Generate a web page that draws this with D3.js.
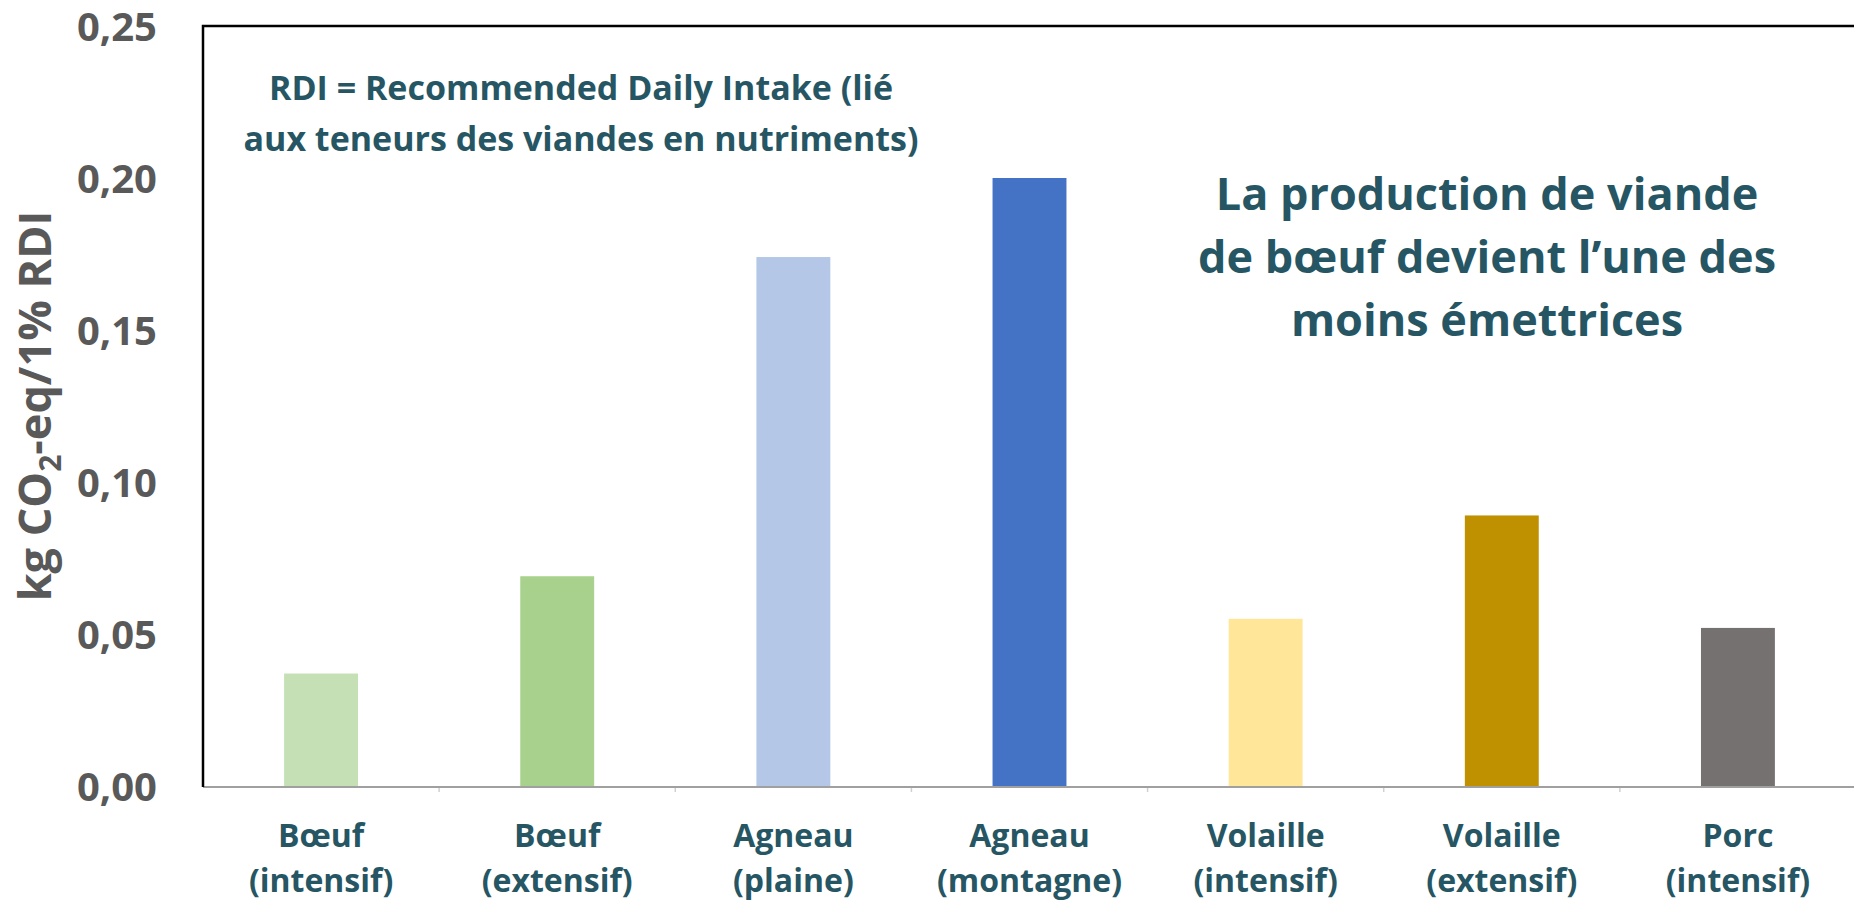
<!DOCTYPE html>
<html>
<head>
<meta charset="utf-8">
<style>
body { margin: 0; background: #fff; }
svg { display: block; font-family: "Open Sans", "Noto Sans", sans-serif; font-weight: bold; }
.tick text { fill: #595959; }
.note { fill: #265663; }
</style>
</head>
<body>
<svg width="1854" height="902"></svg>
<script src="https://d3js.org/d3.v7.min.js"></script>
<script>
  // values (kg CO2-eq / 1% RDI)
  var categories = ["Bœuf|(intensif)", "Bœuf|(extensif)", "Agneau|(plaine)", "Agneau|(montagne)",
                    "Volaille|(intensif)", "Volaille|(extensif)", "Porc|(intensif)"];
  var values = [0.037, 0.069, 0.174, 0.200, 0.055, 0.089, 0.052];
  var colors = ["#c5e0b4", "#a9d18e", "#b4c7e7", "#4472c4", "#ffe699", "#bf9000", "#767171"];
  var yTicks = [0, 0.05, 0.10, 0.15, 0.20, 0.25];

  var svg = d3.select("svg"),
    plotLeft = 203, plotRight = 1856, plotTop = 26, plotBottom = 786;

  var x = d3.scaleBand()
    .domain(categories)
    .range([plotLeft, plotRight])
    .paddingInner(0.687)
    .paddingOuter(0.3435);

  var y = d3.scaleLinear()
    .domain([0, 0.25])
    .range([plotBottom, plotTop]);

  var fr = d3.formatLocale({decimal: ",", thousands: " ", grouping: [3], currency: ["", " €"]});
  var fmt = fr.format(".2f");

  // y axis labels
  var yAxis = svg.append("g")
    .attr("transform", "translate(" + plotLeft + ",0)")
    .call(d3.axisLeft(y).tickValues(yTicks).tickFormat(fmt).tickSize(0).tickPadding(46));
  yAxis.select(".domain").remove();
  yAxis.selectAll("text")
    .attr("font-size", 40)
    .attr("font-family", "Open Sans")
    .attr("font-weight", "bold")
    .attr("dy", "0.36em");

  // bars
  svg.append("g")
    .selectAll("rect")
    .data(values)
    .enter().append("rect")
    .attr("x", function(d, i) { return x(categories[i]); })
    .attr("y", function(d) { return y(d); })
    .attr("width", x.bandwidth())
    .attr("height", function(d) { return y(0) - y(d); })
    .attr("fill", function(d, i) { return colors[i]; });

  // x axis line + boundary ticks
  svg.append("line")
    .attr("x1", plotLeft).attr("x2", 1854)
    .attr("y1", plotBottom + 1).attr("y2", plotBottom + 1)
    .attr("stroke", "#a0a0a0").attr("stroke-width", 2);

  var gap = (x.step() - x.bandwidth()) / 2;
  svg.append("g")
    .selectAll("line")
    .data(categories.slice(1))
    .enter().append("line")
    .attr("x1", function(d) { return x(d) - gap; })
    .attr("x2", function(d) { return x(d) - gap; })
    .attr("y1", plotBottom + 2).attr("y2", plotBottom + 6)
    .attr("stroke", "#d0d0d0").attr("stroke-width", 1.5);

  // frame (left + top)
  svg.append("path")
    .attr("d", "M" + plotLeft + "," + (plotBottom + 1) + "V" + plotTop + "H1854")
    .attr("fill", "none")
    .attr("stroke", "#000")
    .attr("stroke-width", 2.5);

  // category labels
  var xl = svg.append("g")
    .selectAll("text")
    .data(categories)
    .enter().append("text")
    .attr("class", "note")
    .attr("text-anchor", "middle")
    .attr("font-size", 32);
  xl.append("tspan")
    .attr("x", function(d) { return x(d) + x.bandwidth() / 2; })
    .attr("y", 847)
    .text(function(d) { return d.split("|")[0]; });
  xl.append("tspan")
    .attr("x", function(d) { return x(d) + x.bandwidth() / 2; })
    .attr("y", 892)
    .text(function(d) { return d.split("|")[1]; });

  // y axis title
  var yt = svg.append("text")
    .attr("transform", "translate(51," + ((plotTop + plotBottom) / 2) + ") rotate(-90)")
    .attr("text-anchor", "middle")
    .attr("fill", "#595959")
    .attr("font-size", 45);
  yt.append("tspan").text("kg CO");
  yt.append("tspan").attr("font-size", 30).attr("dy", 10).text("2");
  yt.append("tspan").attr("dy", -10).text("-eq/1% RDI");

  // annotations
  var note1 = ["RDI = Recommended Daily Intake (lié", "aux teneurs des viandes en nutriments)"];
  svg.append("text")
    .attr("class", "note")
    .attr("text-anchor", "middle")
    .attr("font-size", 34)
    .selectAll("tspan")
    .data(note1)
    .enter().append("tspan")
    .attr("x", 581)
    .attr("y", function(d, i) { return 100 + i * 51; })
    .text(function(d) { return d; });

  var note2 = ["La production de viande", "de bœuf devient l\u2019une des", "moins émettrices"];
  svg.append("text")
    .attr("class", "note")
    .attr("text-anchor", "middle")
    .attr("font-size", 45)
    .selectAll("tspan")
    .data(note2)
    .enter().append("tspan")
    .attr("x", 1487)
    .attr("y", function(d, i) { return 210 + i * 63; })
    .text(function(d) { return d; });
</script>
</body>
</html>
